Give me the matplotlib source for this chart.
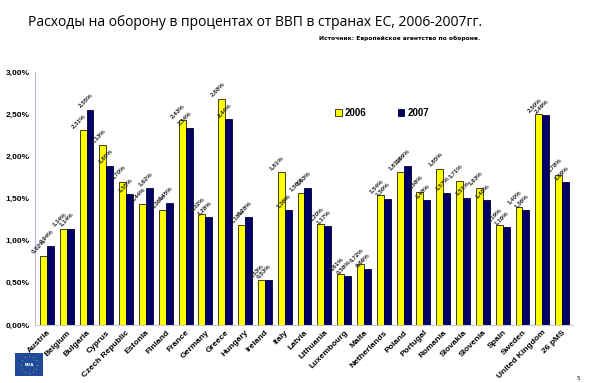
import numpy as np
import matplotlib
matplotlib.use("Agg")
import matplotlib.pyplot as plt
from matplotlib.patches import Rectangle

# ===================================================================
# Data
# ===================================================================
countries = ["Austria", "Belgium", "Bulgaria", "Cyprus", "Czech Republic",
             "Estonia", "Finland", "France", "Germany", "Greece", "Hungary",
             "Ireland", "Italy", "Latvia", "Lithuania", "Luxembourg", "Malta",
             "Netherlands", "Poland", "Portugal", "Romania", "Slovakia",
             "Slovenia", "Spain", "Sweden", "United Kingdom", "26 pMS"]

y2006 = [0.82, 1.14, 2.31, 2.13, 1.70, 1.44, 1.36, 2.43, 1.32, 2.68, 1.18,
         0.53, 1.81, 1.56, 1.20, 0.61, 0.72, 1.54, 1.81, 1.58, 1.85, 1.71,
         1.63, 1.19, 1.40, 2.50, 1.78]
y2007 = [0.94, 1.14, 2.55, 1.89, 1.55, 1.62, 1.45, 2.34, 1.28, 2.44, 1.28,
         0.53, 1.36, 1.63, 1.17, 0.58, 0.66, 1.50, 1.89, 1.48, 1.57, 1.51,
         1.48, 1.16, 1.36, 2.49, 1.69]

yticks = [0, 0.5, 1.0, 1.5, 2.0, 2.5, 3.0]
series_names = ["2006", "2007"]

title = "Расходы на оборону в процентах от ВВП в странах ЕС, 2006-2007гг."
source = "Источник: Европейское агентство по обороне."

# ===================================================================
# Plot
# ===================================================================
W, H = 590, 383
fig = plt.figure(figsize=(W / 100, H / 100), dpi=100)
ax = fig.add_axes([35 / W, 1 - 325 / H, (573 - 35) / W, (325 - 72) / H])

x = np.arange(len(countries))
w = 0.35
b1 = ax.bar(x - w / 2, y2006, w, color="#ffff00", edgecolor="#222200",
            linewidth=0.6, label=series_names[0])
b2 = ax.bar(x + w / 2, y2007, w, color="#000066", edgecolor="#000033",
            linewidth=0.6, label=series_names[1])

def fmt(v):
    return ("%.2f%%" % v).replace(".", ",")

for bars, vals in [(b1, y2006), (b2, y2007)]:
    for b, v in zip(bars, vals):
        ax.annotate(fmt(v), (b.get_x() + b.get_width(), v),
                    xytext=(0, 1), textcoords="offset points",
                    ha="right", va="bottom", rotation=45,
                    fontsize=4.5, fontweight="bold", color="#222222",
                    family="Liberation Sans")

ax.set_xlim(-0.6, len(countries) - 0.45)
ax.set_ylim(0, 3.0)
ax.set_yticks(yticks)
ax.set_yticklabels([fmt(t) for t in yticks], fontsize=6, fontweight="bold",
                   family="Liberation Sans")
ax.set_xticks(x)
ax.set_xticklabels(countries, rotation=45, ha="right", rotation_mode="anchor",
                   fontsize=6, fontweight="bold", family="Liberation Sans")
ax.tick_params(axis="x", length=0, pad=3)
ax.tick_params(axis="y", length=0, pad=4)

for s in ["top", "right"]:
    ax.spines[s].set_visible(False)
ax.spines["left"].set_color("#b8b8d8")
ax.spines["bottom"].set_color("#cccccc")
ax.spines["left"].set_linewidth(0.8)
ax.spines["bottom"].set_linewidth(0.8)

leg = ax.legend(loc="center", bbox_to_anchor=(382 / W, 1 - 113 / H),
                bbox_transform=fig.transFigure, ncol=2, frameon=False,
                handlelength=0.7, handleheight=0.7, handletextpad=0.3,
                columnspacing=3.2,
                prop={"size": 7, "weight": "bold", "family": "Liberation Sans"})

# titles
fig.text(28 / W, 1 - 22 / H, title, ha="left", va="center", fontsize=10,
         family="Open Sans")
fig.text(480 / W, 1 - 38 / H, source, ha="right", va="center", fontsize=4.3,
         fontweight="bold", family=["Liberation Sans Narrow", "DejaVu Sans"])

# EDA logo
lax = fig.add_axes([15 / W, 1 - 376 / H, 28 / W, 23 / H])
lax.add_patch(Rectangle((0, 0), 1, 1, color="#1f4a9c"))
ang = np.linspace(0, 2 * np.pi, 12, endpoint=False)
lax.scatter(0.5 + 0.3 * np.cos(ang), 0.5 + 0.36 * np.sin(ang), s=1.2,
            marker="*", color="#ffdd00", linewidths=0)
lax.text(0.5, 0.5, "EDA", ha="center", va="center", fontsize=3,
         color="white", fontweight="bold")
lax.set_xlim(0, 1)
lax.set_ylim(0, 1)
lax.axis("off")

fig.text(578 / W, 1 - 378 / H, "5", fontsize=4, ha="center", va="center")

fig.savefig("out.png", dpi=100)
